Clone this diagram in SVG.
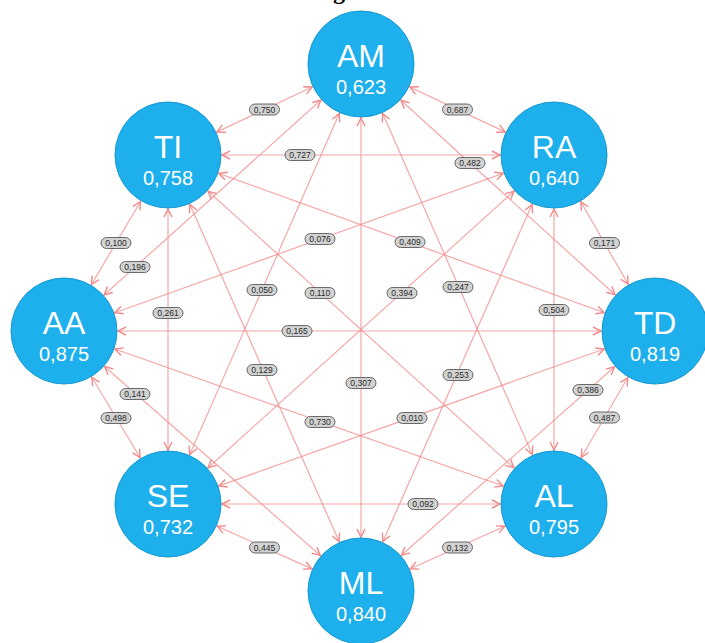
<svg xmlns="http://www.w3.org/2000/svg" width="705" height="643" viewBox="0 0 705 643">
<style>
.edge{stroke:#f28a8a;stroke-width:1.2;stroke-opacity:0.75;fill:none;marker-start:url(#ah);marker-end:url(#ah)}
.lbl rect{fill:#d2d2d2;stroke:#5a5a5a;stroke-width:0.9}
.lbl text{font-family:"Liberation Sans",Arial,sans-serif;font-size:8.5px;fill:#2a2a2a;text-anchor:middle}
.node circle{fill:#1db0ec;stroke:#1699d0;stroke-width:1}
.nm{font-family:"Liberation Sans",Arial,sans-serif;font-size:32px;fill:#fff;text-anchor:middle}
.val{font-family:"Liberation Sans",Arial,sans-serif;font-size:20px;fill:#fff;text-anchor:middle}
.title{font-family:"Liberation Serif","Times New Roman",serif;font-size:24px;font-weight:bold;fill:#000}
</style>
<defs>
<marker id="ah" markerUnits="userSpaceOnUse" orient="auto-start-reverse" refX="54" refY="0" markerWidth="80" markerHeight="20" viewBox="-10 -10 80 20" overflow="visible">
<path d="M-8,-4 L0,0 L-8,4" fill="none" stroke="#f28a8a" stroke-width="1.4"/>
</marker>
</defs>
<rect width="705" height="643" fill="#fff"/>
<text class="title" x="333" y="-1">g</text>
<g id="connectors">
<line class="edge" x1="361" y1="64" x2="554" y2="155"/>
<line class="edge" x1="361" y1="64" x2="168" y2="155"/>
<line class="edge" x1="361" y1="64" x2="655" y2="331"/>
<line class="edge" x1="361" y1="64" x2="554" y2="504"/>
<line class="edge" x1="361" y1="64" x2="361" y2="591"/>
<line class="edge" x1="361" y1="64" x2="168" y2="504"/>
<line class="edge" x1="361" y1="64" x2="64" y2="331"/>
<line class="edge" x1="554" y1="155" x2="655" y2="331"/>
<line class="edge" x1="554" y1="155" x2="554" y2="504"/>
<line class="edge" x1="554" y1="155" x2="361" y2="591"/>
<line class="edge" x1="554" y1="155" x2="168" y2="504"/>
<line class="edge" x1="554" y1="155" x2="64" y2="331"/>
<line class="edge" x1="554" y1="155" x2="168" y2="155"/>
<line class="edge" x1="655" y1="331" x2="554" y2="504"/>
<line class="edge" x1="655" y1="331" x2="361" y2="591"/>
<line class="edge" x1="655" y1="331" x2="168" y2="504"/>
<line class="edge" x1="655" y1="331" x2="64" y2="331"/>
<line class="edge" x1="655" y1="331" x2="168" y2="155"/>
<line class="edge" x1="554" y1="504" x2="361" y2="591"/>
<line class="edge" x1="554" y1="504" x2="168" y2="504"/>
<line class="edge" x1="554" y1="504" x2="64" y2="331"/>
<line class="edge" x1="554" y1="504" x2="168" y2="155"/>
<line class="edge" x1="361" y1="591" x2="168" y2="504"/>
<line class="edge" x1="361" y1="591" x2="64" y2="331"/>
<line class="edge" x1="361" y1="591" x2="168" y2="155"/>
<line class="edge" x1="168" y1="504" x2="64" y2="331"/>
<line class="edge" x1="168" y1="504" x2="168" y2="155"/>
<line class="edge" x1="64" y1="331" x2="168" y2="155"/>
<g class="lbl">
<rect x="249.5" y="104" width="30" height="11" rx="5.5"/><text x="264.5" y="112.5">0,750</text>
<rect x="442.5" y="104" width="30" height="11" rx="5.5"/><text x="457.5" y="112.5">0,687</text>
<rect x="285" y="149.5" width="30" height="11" rx="5.5"/><text x="300" y="158">0,727</text>
<rect x="455" y="157.5" width="30" height="11" rx="5.5"/><text x="470" y="166">0,482</text>
<rect x="101" y="237.5" width="30" height="11" rx="5.5"/><text x="116" y="246">0,100</text>
<rect x="120" y="261.5" width="30" height="11" rx="5.5"/><text x="135" y="270">0,196</text>
<rect x="305" y="233.5" width="30" height="11" rx="5.5"/><text x="320" y="242">0,076</text>
<rect x="395" y="236.5" width="30" height="11" rx="5.5"/><text x="410" y="245">0,409</text>
<rect x="247" y="284.5" width="30" height="11" rx="5.5"/><text x="262" y="293">0,050</text>
<rect x="305" y="287.5" width="30" height="11" rx="5.5"/><text x="320" y="296">0,110</text>
<rect x="387" y="287.5" width="30" height="11" rx="5.5"/><text x="402" y="296">0,394</text>
<rect x="443" y="281.5" width="30" height="11" rx="5.5"/><text x="458" y="290">0,247</text>
<rect x="153" y="307.5" width="30" height="11" rx="5.5"/><text x="168" y="316">0,261</text>
<rect x="282" y="325.5" width="30" height="11" rx="5.5"/><text x="297" y="334">0,165</text>
<rect x="539" y="304.5" width="30" height="11" rx="5.5"/><text x="554" y="313">0,504</text>
<rect x="589.5" y="237.5" width="30" height="11" rx="5.5"/><text x="604.5" y="246">0,171</text>
<rect x="247" y="364.5" width="30" height="11" rx="5.5"/><text x="262" y="373">0,129</text>
<rect x="346" y="377.5" width="30" height="11" rx="5.5"/><text x="361" y="386">0,307</text>
<rect x="443" y="369.5" width="30" height="11" rx="5.5"/><text x="458" y="378">0,253</text>
<rect x="120" y="388.5" width="30" height="11" rx="5.5"/><text x="135" y="397">0,141</text>
<rect x="101" y="412.5" width="30" height="11" rx="5.5"/><text x="116" y="421">0,498</text>
<rect x="305" y="416.5" width="30" height="11" rx="5.5"/><text x="320" y="425">0,730</text>
<rect x="397" y="412.5" width="30" height="11" rx="5.5"/><text x="412" y="421">0,010</text>
<rect x="573" y="384.5" width="30" height="11" rx="5.5"/><text x="588" y="393">0,386</text>
<rect x="589.5" y="412" width="30" height="11" rx="5.5"/><text x="604.5" y="420.5">0,487</text>
<rect x="408" y="498.5" width="30" height="11" rx="5.5"/><text x="423" y="507">0,092</text>
<rect x="249.5" y="542" width="30" height="11" rx="5.5"/><text x="264.5" y="550.5">0,445</text>
<rect x="442.5" y="542" width="30" height="11" rx="5.5"/><text x="457.5" y="550.5">0,132</text>
</g>
</g>
<g id="node-AM" class="node"><circle cx="361" cy="64" r="53"/><text class="nm" x="361" y="67">AM</text><text class="val" x="361" y="94">0,623</text></g>
<g id="node-RA" class="node"><circle cx="554" cy="155" r="53"/><text class="nm" x="554" y="158">RA</text><text class="val" x="554" y="185">0,640</text></g>
<g id="node-TD" class="node"><circle cx="655" cy="331" r="53"/><text class="nm" x="655" y="334">TD</text><text class="val" x="655" y="361">0,819</text></g>
<g id="node-AL" class="node"><circle cx="554" cy="504" r="53"/><text class="nm" x="554" y="507">AL</text><text class="val" x="554" y="534">0,795</text></g>
<g id="node-ML" class="node"><circle cx="361" cy="591" r="53"/><text class="nm" x="361" y="594">ML</text><text class="val" x="361" y="621">0,840</text></g>
<g id="node-SE" class="node"><circle cx="168" cy="504" r="53"/><text class="nm" x="168" y="507">SE</text><text class="val" x="168" y="534">0,732</text></g>
<g id="node-AA" class="node"><circle cx="64" cy="331" r="53"/><text class="nm" x="64" y="334">AA</text><text class="val" x="64" y="361">0,875</text></g>
<g id="node-TI" class="node"><circle cx="168" cy="155" r="53"/><text class="nm" x="168" y="158">TI</text><text class="val" x="168" y="185">0,758</text></g>
</svg>
